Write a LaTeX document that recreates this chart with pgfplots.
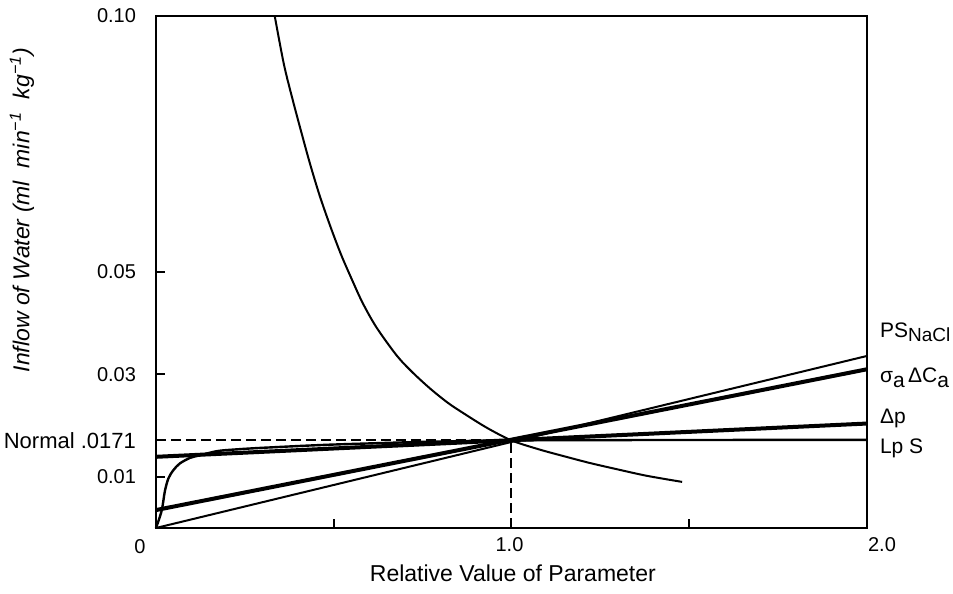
\documentclass[border=0pt]{standalone}
\usepackage{fontspec}
\setmainfont{Liberation Sans}
\usepackage{pgfplots}
\pgfplotsset{compat=1.18}
\begin{document}
\begin{tikzpicture}
\begin{axis}[
  scale only axis, width=355.5pt, height=256pt,
  xmin=0, xmax=2, ymin=0, ymax=0.1,
  axis line style={line width=1.2pt},
  tick style={line width=1pt, black},
  tick align=inside, major tick length=4.5pt,
  xtick={0.5,1,1.5}, xticklabels={,,},
  ytick={0.01,0.03,0.05}, yticklabels={,,},
  xtick pos=lower, ytick pos=left,
  clip=false,
]
% hyperbola-like curve
\addplot[black, line width=1pt, smooth] coordinates {
(0.334,0.1000) (0.360,0.0905) (0.385,0.0835) (0.410,0.0770) (0.433,0.0712)
(0.460,0.0650) (0.490,0.0590) (0.520,0.0535) (0.550,0.0487) (0.581,0.0440)
(0.620,0.0392) (0.677,0.0337) (0.720,0.0305) (0.770,0.0273) (0.820,0.0245)
(0.863,0.0225) (0.930,0.0196) (1.000,0.0171) (1.080,0.0153) (1.154,0.0139)
(1.220,0.0127) (1.295,0.0115) (1.380,0.0102) (1.480,0.0090)};
% PS NaCl
\addplot[black, line width=1pt] coordinates {(0,0) (2,0.0336)};
% sigma_a Delta C_a
\addplot[black, line width=2pt] coordinates {(0,0.0035) (2,0.0310)};
% Delta p
\addplot[black, line width=2pt] coordinates {(0,0.0139) (2,0.0204)};
% Lp S
\addplot[black, line width=1.2pt, smooth, tension=0.5] coordinates {
(0,0) (0.016,0.0034) (0.025,0.0072) (0.035,0.0097) (0.049,0.0113)
(0.067,0.0126) (0.096,0.0137) (0.124,0.0142) (0.171,0.0150) (0.216,0.0153)
(0.311,0.0157) (0.545,0.0164) (1.0,0.0171) (2.0,0.0172)};
% normal reference
\addplot[black, line width=1pt, dash pattern=on 5pt off 2.5pt] coordinates {(0,0.0171) (1,0.0171)};
\addplot[black, line width=1pt, dash pattern=on 5pt off 2.5pt] coordinates {(1,0) (1,0.0171)};

% tick labels
\node[anchor=east, font=\fontsize{10}{12}\selectfont, xshift=-6.5pt] at (axis cs:0,0.10) {0.10};
\node[anchor=east, font=\fontsize{10}{12}\selectfont, xshift=-6.5pt] at (axis cs:0,0.05) {0.05};
\node[anchor=east, font=\fontsize{10}{12}\selectfont, xshift=-6.5pt] at (axis cs:0,0.03) {0.03};
\node[anchor=east, font=\fontsize{10}{12}\selectfont, xshift=-6.5pt] at (axis cs:0,0.01) {0.01};
\node[anchor=east, font=\fontsize{11}{13}\selectfont, xshift=-6.5pt] at (axis cs:0,0.0171) {Normal .0171};
\node[font=\fontsize{10}{12}\selectfont, xshift=-8pt, yshift=-9.5pt] at (axis cs:0,0) {0};
\node[font=\fontsize{10}{12}\selectfont, xshift=-1pt, yshift=-8.5pt] at (axis cs:1,0) {1.0};
\node[font=\fontsize{10}{12}\selectfont, xshift=7.5pt, yshift=-8.5pt] at (axis cs:2,0) {2.0};

% axis labels
\node[font=\fontsize{11.5}{13}\selectfont, yshift=-22.5pt] at (rel axis cs:0.502,0) {Relative Value of Parameter};
\node[rotate=90, font=\fontsize{11.5}{13}\selectfont\itshape] at ([xshift=-67pt]rel axis cs:0,0.621) {Inflow of Water (ml\ \ min\textsuperscript{−1}\ \ kg\textsuperscript{−1})};

% right-hand labels
\node[anchor=base west, font=\fontsize{10.5}{12}\selectfont, xshift=3pt] at (rel axis cs:1,0.373) {PS\raisebox{-0.45ex}{\fontsize{9.5}{11}\selectfont NaCl}};
\node[anchor=base west, font=\fontsize{10.5}{12}\selectfont, xshift=3pt] at (rel axis cs:1,0.285) {σ\raisebox{-0.45ex}{a}\,ΔC\raisebox{-0.45ex}{a}};
\node[anchor=base west, font=\fontsize{10.5}{12}\selectfont, xshift=3pt] at (rel axis cs:1,0.205) {Δp};
\node[anchor=base west, font=\fontsize{10.5}{12}\selectfont, xshift=3pt] at (rel axis cs:1,0.146) {Lp S};

\coordinate (bbl) at (rel axis cs:-0.2194,-0.127);
\coordinate (btr) at (rel axis cs:1.1210,1.03125);
\end{axis}
\pgfresetboundingbox
\path (bbl) rectangle (btr);
\end{tikzpicture}
\end{document}
